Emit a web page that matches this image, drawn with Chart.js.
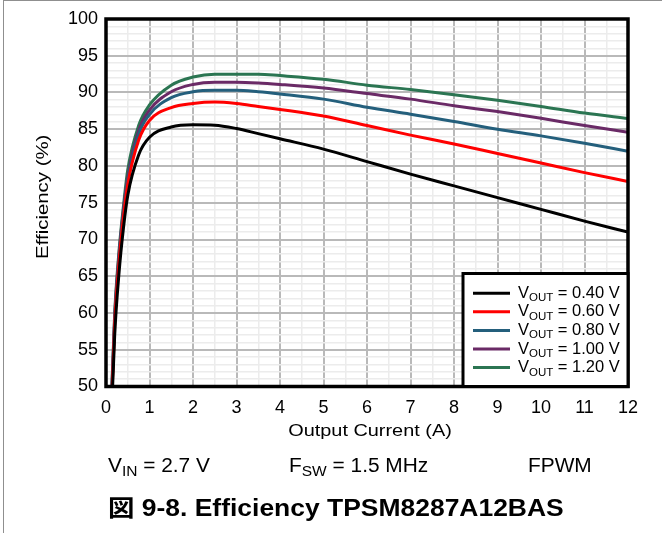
<!DOCTYPE html>
<html lang="ja">
<head>
<meta charset="utf-8">
<script src="https://cdn.jsdelivr.net/npm/chart.js"></script>
<style>
  body { margin: 0; background: #fff; }
  .wrap { position: relative; width: 662px; height: 533px; overflow: hidden;
          font-family: 'Liberation Sans', Arial, 'Noto Sans CJK JP', sans-serif; color: #000; }
  .frame { position: absolute; left: 3px; top: 0; width: 700px; height: 600px;
           border-left: 1px solid #8f8f8f; border-top: 1px solid #8f8f8f; }
  #chart { position: absolute; left: 0; top: 0; }
  .cond { position: absolute; top: 456px; font-size: 19.5px; line-height: 1; white-space: nowrap;
          transform: scaleX(1.07); transform-origin: 0 0; }
  .cond .sub { font-size: 14.5px; position: relative; top: 3.5px; }
  .caption { position: absolute; left: 108px; top: 497px; font-size: 23px; font-weight: bold;
             line-height: 1; white-space: nowrap; transform: scaleX(1.15); transform-origin: 0 0; }
</style>
</head>
<body>
<div class="wrap">
  <div class="frame"></div>
  <canvas id="chart" width="662" height="533"></canvas>
  <div class="cond" style="left:108px">V<span class="sub">IN</span> = 2.7 V</div>
  <div class="cond" style="left:289px">F<span class="sub">SW</span> = 1.5 MHz</div>
  <div class="cond" style="left:528px">FPWM</div>
  <div class="caption">図 9-8. Efficiency TPSM8287A12BAS</div>
</div>
<script>
// output current (A)
const current = [0.1, 0.2, 0.3, 0.4, 0.5, 0.75, 1, 1.5, 2, 2.5, 3, 3.5, 4, 5, 6, 7, 8, 9, 10, 11, 12];

// efficiency (%) per output voltage
const eff040 = [42, 57, 65.5, 71.5, 76, 81.5, 83.9, 85.3, 85.6, 85.55, 85.1, 84.4, 83.7, 82.3, 80.6, 78.9, 77.3, 75.7, 74.1, 72.5, 71.0];
const eff060 = [43, 58.5, 67, 73, 77.5, 83.5, 86.2, 87.95, 88.5, 88.7, 88.5, 88.1, 87.7, 86.8, 85.5, 84.2, 83.0, 81.7, 80.4, 79.1, 77.9];
const eff080 = [43.5, 59, 67.5, 73.5, 78, 84.3, 87.0, 89.3, 90.1, 90.3, 90.3, 90.1, 89.8, 89.1, 88.0, 87.05, 86.05, 85.0, 84.1, 83.1, 82.0];
const eff100 = [44, 59.5, 68, 74, 78.5, 84.8, 87.6, 90.1, 91.1, 91.4, 91.4, 91.3, 91.1, 90.6, 89.85, 89.1, 88.2, 87.4, 86.5, 85.5, 84.6];
const eff120 = [44.5, 60, 68.5, 74.5, 79.5, 85.5, 88.3, 91.0, 92.1, 92.5, 92.5, 92.5, 92.3, 91.8, 91.0, 90.4, 89.7, 88.95, 88.1, 87.2, 86.45];

const voutLabels = ['0.40', '0.60', '0.80', '1.00', '1.20'];
const seriesValues = [eff040, eff060, eff080, eff100, eff120];
const seriesColors = ['#000000', '#ff0000', '#245f7c', '#6a2a66', '#2b7552'];

const xTitle = 'Output Current (A)';
const yTitle = 'Efficiency (%)';

const FONT = "'Liberation Sans', Arial, sans-serif";

// stretched text, the source figure's labels are a bit wider than Arial
function wideText(ctx, text, x, y, rot, sx) {
  ctx.save();
  ctx.translate(x, y);
  if (rot) ctx.rotate(rot);
  ctx.scale(sx, 1);
  ctx.fillText(text, 0, 0);
  ctx.restore();
}

// black frame round the plot, axis titles, boxed legend with subscripts
const framePlugin = {
  id: 'frame',
  afterDraw(chart) {
    const { ctx, chartArea: a } = chart;
    ctx.save();
    ctx.lineWidth = 3.5;
    ctx.strokeStyle = '#000';
    ctx.strokeRect(a.left, a.top, a.right - a.left, a.bottom - a.top);

    ctx.fillStyle = '#000';
    ctx.textAlign = 'center';
    ctx.textBaseline = 'alphabetic';
    ctx.font = '17px ' + FONT;
    wideText(ctx, xTitle, (a.left + a.right) / 2 + 3, a.bottom + 49, 0, 1.17);
    wideText(ctx, yTitle, 47.5, (a.top + a.bottom) / 2 - 6, -Math.PI / 2, 1.2);

    // legend box, bottom right of plot
    const w = 165, h = 113;
    const lx = a.right - w, ly = a.bottom - h;
    ctx.fillStyle = '#fff';
    ctx.fillRect(lx, ly, w, h);
    ctx.lineWidth = 3;
    ctx.strokeRect(lx, ly, w, h);

    ctx.textAlign = 'left';
    chart.data.datasets.forEach((ds, i) => {
      const cy = ly + 19.7 + i * 18.6;
      ctx.strokeStyle = ds.borderColor;
      ctx.lineWidth = 3;
      ctx.beginPath();
      ctx.moveTo(lx + 10, cy);
      ctx.lineTo(lx + 47, cy);
      ctx.stroke();

      ctx.fillStyle = '#000';
      let x = lx + 55;
      const base = cy + 4.6;
      ctx.font = '16.5px ' + FONT;
      ctx.fillText('V', x, base);
      x += ctx.measureText('V').width;
      ctx.font = '11.5px ' + FONT;
      ctx.fillText('OUT', x, base + 3.4);
      x += ctx.measureText('OUT').width;
      ctx.font = '16.5px ' + FONT;
      ctx.fillText(' = ' + voutLabels[i] + ' V', x, base);
    });
    ctx.restore();
  }
};

new Chart(document.getElementById('chart'), {
  type: 'line',
  data: {
    datasets: seriesValues.map((vals, i) => ({
      label: 'VOUT = ' + voutLabels[i] + ' V',
      data: current.map((c, j) => ({ x: c, y: vals[j] })),
      borderColor: seriesColors[i],
      backgroundColor: seriesColors[i],
      borderWidth: 3,
      pointRadius: 0,
      cubicInterpolationMode: 'monotone',
      fill: false
    }))
  },
  options: {
    responsive: false,
    animation: false,
    layout: { padding: { left: 0, right: 34, top: 19, bottom: 86.5 } },
    plugins: { legend: { display: false }, tooltip: { enabled: false } },
    scales: {
      x: {
        type: 'linear',
        min: 0, max: 12,
        afterFit(scale) { scale.height = 60; },
        border: { display: false },
        grid: {
          drawTicks: false,
          color: c => Number.isInteger(c.tick.value) ? '#b9b9b9' : '#ececec',
          lineWidth: c => Number.isInteger(c.tick.value) ? 2 : 1.5
        },
        ticks: {
          stepSize: 0.5, autoSkip: false, maxRotation: 0, padding: 11,
          color: '#000', font: { family: FONT, size: 18 },
          callback: v => Number.isInteger(v) ? v : ''
        }
      },
      y: {
        type: 'linear',
        min: 50, max: 100,
        afterFit(scale) { scale.width = 106; },
        border: { display: false },
        grid: {
          drawTicks: false,
          color: c => c.tick.value % 5 === 0 ? '#b9b9b9' : '#ececec',
          lineWidth: c => c.tick.value % 5 === 0 ? 2 : 1.5
        },
        ticks: {
          stepSize: 1, autoSkip: false, padding: 8,
          color: '#000', font: { family: FONT, size: 18 },
          callback: v => v % 5 === 0 ? v : ''
        }
      }
    }
  },
  plugins: [framePlugin]
});
</script>
</body>
</html>
